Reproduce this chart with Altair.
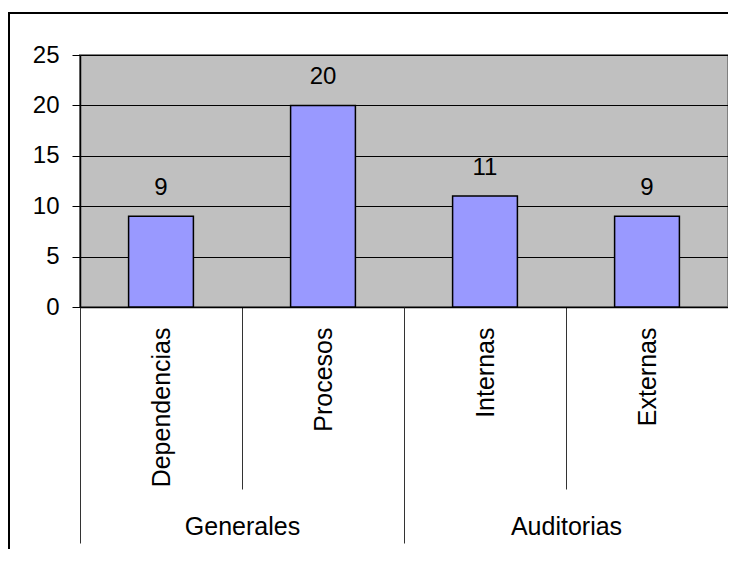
import altair as alt
import pandas as pd

categorias = ["Dependencias", "Procesos", "Internas", "Externas"]
grupos = ["Generales", "Generales", "Auditorias", "Auditorias"]
valores = [9, 20, 11, 9]
grupos_unicos = ["Generales", "Auditorias"]
y_ticks = [0, 5, 10, 15, 20, 25]

df = pd.DataFrame({"categoria": categorias, "grupo": grupos, "valor": valores})
df_grupos = pd.DataFrame({"grupo": grupos_unicos})
df_borde = pd.DataFrame({"a": [0]})

FONT = "Liberation Sans"
FS = 24
FS_CAT = 25

x_cat = alt.X(
    "categoria:N",
    sort=categorias,
    scale=alt.Scale(paddingInner=0, paddingOuter=0),
    axis=alt.Axis(
        title=None,
        orient="bottom",
        labelAngle=270,
        labelAlign="right",
        labelBaseline="middle",
        labelFontSize=FS_CAT,
        labelFont=FONT,
        labelColor="black",
        labelPadding=-162,
        tickBand="extent",
        tickSize=182,
        tickColor="#333333",
        tickWidth=1,
        domainColor="black",
        domainWidth=1.5,
        grid=False,
    ),
)

y_val = alt.Y(
    "valor:Q",
    scale=alt.Scale(domain=[0, 25], nice=False),
    axis=alt.Axis(
        title=None,
        values=y_ticks,
        labelFontSize=FS,
        labelFont=FONT,
        labelColor="black",
        labelPadding=13,
        tickSize=8,
        tickColor="black",
        domainColor="black",
        domainWidth=1.5,
        gridColor="black",
        gridWidth=1,
    ),
)

bars = alt.Chart(df).mark_bar(
    color="#9999FF", stroke="black", strokeWidth=1.5, width=alt.RelativeBandSize(0.4)
).encode(x=x_cat, y=y_val)

labels = alt.Chart(df).mark_text(
    baseline="alphabetic", dy=-21, fontSize=FS, font=FONT, color="black"
).encode(x=alt.X("categoria:N", sort=categorias), y="valor:Q", text="valor:Q")

main = alt.layer(bars, labels)

groups = alt.Chart(df_grupos).mark_bar(opacity=0).encode(
    x=alt.X(
        "grupo:N",
        sort=grupos_unicos,
        scale=alt.Scale(paddingInner=0, paddingOuter=0),
        axis=alt.Axis(
            title=None,
            orient="bottom",
            labelAngle=0,
            labelAlign="center",
            labelBaseline="top",
            labelFontSize=FS_CAT,
            labelFont=FONT,
            labelColor="black",
            labelPadding=-29,
            tickBand="extent",
            tickSize=236,
            tickColor="#333333",
            tickWidth=1,
            domain=False,
            grid=False,
        ),
    ),
    y=alt.value(252),
)

border_top = alt.Chart(df_borde).mark_rule(
    color="black", strokeWidth=2, clip=False
).encode(x=alt.value(-72), x2=alt.value(700), y=alt.value(-42))

border_left = alt.Chart(df_borde).mark_rule(
    color="black", strokeWidth=2, clip=False
).encode(x=alt.value(-71), y=alt.value(-43), y2=alt.value(600))

chart = (
    alt.layer(main, groups, border_top, border_left)
    .resolve_scale(x="independent")
    .resolve_axis(x="independent")
    .properties(
        width=648,
        height=252,
        autosize=alt.AutoSizeParams(type="none"),
        padding={"left": 72, "top": 47, "right": 0, "bottom": 242},
        background="white",
    )
    .configure_view(fill="#C0C0C0", stroke="#808080", strokeWidth=2)
)

chart.save("out.html", embed_options={"renderer": "svg", "actions": False})
